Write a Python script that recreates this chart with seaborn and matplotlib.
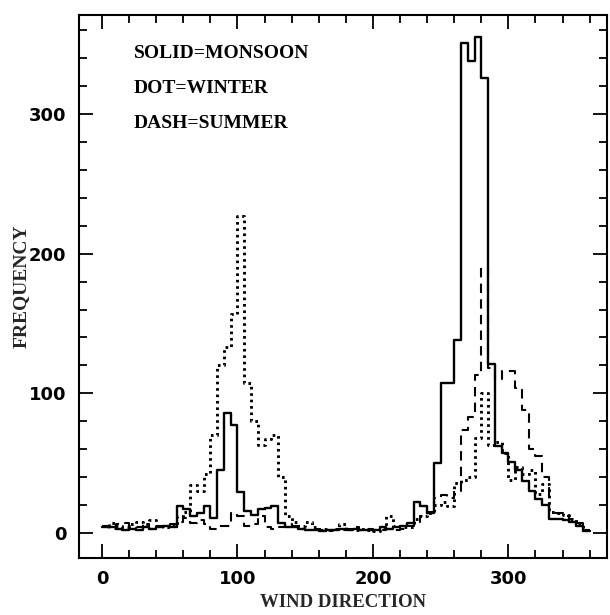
import numpy as np
import pandas as pd
import matplotlib
matplotlib.use("Agg")
import matplotlib.pyplot as plt
from matplotlib.ticker import MultipleLocator
import seaborn as sns

# ---- data: frequency per 5-degree wind-direction bin (0-360) ----
bin_width = 5
monsoon = [4, 4, 3, 2, 3, 2, 4, 3, 4, 5,
           4, 19, 17, 12, 14, 19, 11, 45, 86, 77,
           29, 16, 13, 17, 18, 19, 7, 4, 4, 3,
           2, 2, 1, 2, 2, 3, 2, 3, 2, 2,
           2, 4, 3, 4, 5, 7, 22, 19, 14, 50,
           107, 107, 138, 351, 338, 355, 326, 121, 62, 57,
           51, 45, 37, 30, 24, 20, 10, 10, 9, 8,
           5, 1]
winter = [5, 7, 5, 4, 6, 8, 6, 9, 5, 4,
          5, 12, 15, 34, 30, 42, 70, 120, 133, 157,
          227, 107, 80, 63, 67, 70, 40, 12, 8, 5,
          8, 4, 3, 2, 3, 6, 3, 2, 3, 2,
          1, 3, 12, 5, 4, 4, 10, 12, 14, 20,
          22, 19, 36, 38, 40, 68, 100, 63, 65, 57,
          38, 47, 42, 45, 28, 35, 15, 14, 13, 10,
          6, 2]
summer = [5, 3, 6, 7, 5, 4, 6, 3, 5, 4,
          6, 8, 11, 7, 9, 6, 3, 5, 5, 14,
          12, 5, 6, 12, 4, 3, 4, 6, 5, 3,
          2, 3, 2, 1, 2, 2, 3, 4, 2, 3,
          2, 2, 3, 2, 3, 5, 8, 12, 15, 25,
          27, 25, 30, 74, 83, 113, 190, 118, 110, 116,
          116, 104, 88, 60, 55, 40, 14, 14, 12, 10,
          7, 2]
legend_lines = ["SOLID=MONSOON", "DOT=WINTER", "DASH=SUMMER"]
x_label = "WIND DIRECTION"
y_label = "FREQUENCY"

n_bins = len(monsoon)
edges = np.arange(n_bins + 1) * bin_width
centers = edges[:-1] + bin_width / 2

sns.set_style("ticks")
plt.rcParams["font.family"] = ["DejaVu Sans"]

fig = plt.figure(figsize=(6.1, 6.15), dpi=100)
ax = fig.add_axes([0.1295, 0.0927, 0.866, 0.883])

series = [
    (monsoon, "-", 1.7),
    (winter, (0, (0.9, 1.3)), 2.1),
    (summer, (0, (4.5, 3.0)), 1.5),
]
for vals, ls, lw in series:
    df = pd.DataFrame({"direction": centers, "count": vals})
    sns.histplot(data=df, x="direction", weights="count",
                 binwidth=bin_width, binrange=(edges[0], edges[-1]),
                 element="step", fill=False, color="black",
                 linestyle=ls, linewidth=lw, ax=ax)

ax.set_xlim(-17, 373)
ax.set_ylim(-18, 371)
ax.xaxis.set_major_locator(MultipleLocator(100))
ax.xaxis.set_minor_locator(MultipleLocator(20))
ax.yaxis.set_major_locator(MultipleLocator(100))
ax.yaxis.set_minor_locator(MultipleLocator(20))
ax.tick_params(which="both", direction="in", top=True, right=True,
               width=1.3, colors="black")
ax.tick_params(which="major", length=10, pad=9)
ax.tick_params(which="minor", length=5.5)
for lab in ax.get_xticklabels() + ax.get_yticklabels():
    lab.set_fontfamily("DejaVu Sans")
    lab.set_fontweight("bold")
    lab.set_fontsize(13)
for s in ax.spines.values():
    s.set_linewidth(1.5)
    s.set_color("black")

serif = "Liberation Serif"
ax.set_xlabel(x_label, fontfamily=serif, fontweight="bold", fontsize=13.5)
ax.set_ylabel(y_label, fontfamily=serif, fontweight="bold", fontsize=14)
ax.xaxis.set_label_coords(0.5, -0.066)
ax.yaxis.set_label_coords(-0.093, 0.5)

for i, txt in enumerate(legend_lines):
    ax.text(0.104, 0.920 - i * 0.0645, txt, transform=ax.transAxes,
            fontfamily=serif, fontweight="bold", fontsize=14,
            va="baseline", ha="left", color="black")

fig.savefig("out.png", dpi=100)
